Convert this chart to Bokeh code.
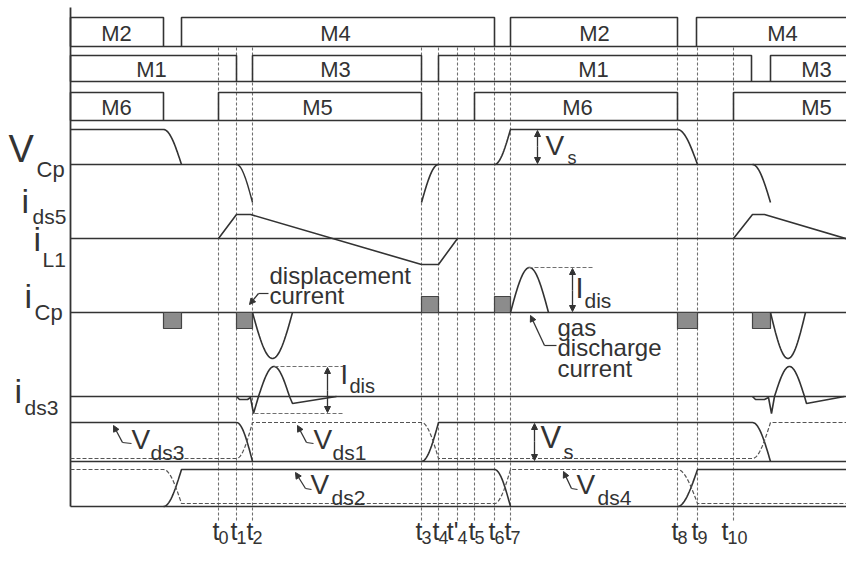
import numpy as np
from bokeh.plotting import figure
from bokeh.models import Range1d, Arrow, NormalHead
from bokeh.core.properties import value
from bokeh.embed import file_html
from bokeh.resources import INLINE

# ---------------- data ----------------
# switching instants (time axis) and their labels
tick_names = ["t0", "t1", "t2", "t3", "t4", "t4p", "t5", "t6", "t7", "t8", "t9", "t10"]
tick_main = ["t", "t", "t", "t", "t", "t'", "t", "t", "t", "t", "t", "t"]
tick_subs = ["0", "1", "2", "3", "4", "4", "5", "6", "7", "8", "9", "10"]
tick_times = [218, 236, 252, 421, 438, 457, 474, 494, 510, 677, 697, 733]
tick_label_x = [218, 236, 252, 421, 438, 457, 474, 494, 510, 677, 697, 727]
T = dict(zip(tick_names, tick_times))
ta, tb, tc, td = 163, 181, 752, 770      # unlabeled switching edges
t_start, t_end = 70, 870

# gate signals
gate_labels = ["M2", "M4", "M2", "M4", "M1", "M3", "M1", "M3", "M6", "M5", "M6", "M5"]
gate_row = [0, 0, 0, 0, 1, 1, 1, 1, 2, 2, 2, 2]
gate_on = [70, 181, 510, 696, 70, 252, 438, 770, 70, 218, 474, 733]
gate_off = [163, 494, 677, 900, 236, 421, 751, 900, 163, 421, 677, 900]
gate_label_x = [116, 335, 594, 782, 151, 335, 593, 816, 116, 317, 577, 816]
row_base = [46, 81, 120]
row_top = [17, 55, 92]

# waveform levels (measured downward from the top of the drawing)
vcp_high, vcp_zero, vcp_low = 129, 164, 202
il1_zero, il1_peak, il1_min, il1_end = 238, 214, 264, 243
icp_zero, icp_pos, icp_neg, pulse_depth = 312, 267, 358, 16
ids3_zero, ids3_peak, ids3_spike, ids3_under, ids3_dip = 396, 366, 413, 403, 399
vds13_hi, vds13_lo, vds13_dash_lo = 422, 461, 458
vds24_hi, vds24_lo, vds24_dash_lo = 469, 506, 503

INK = "#333333"
DASHC = "#707070"
FONT = value("Liberation Sans")
W, H = 846, 547

p = figure(width=W, height=H, x_range=Range1d(0, W), y_range=Range1d(0, H),
           output_backend="svg", toolbar_location=None, min_border=0,
           x_axis_location=None, y_axis_location=None)
p.grid.visible = False
p.outline_line_color = None


def fy(v):
    if isinstance(v, (list, tuple, np.ndarray)):
        return [H - a for a in v]
    return H - v


def ease_out(x0, y0, x1, y1, n=18):
    s = np.linspace(0, 1, n)
    return list(x0 + (x1 - x0) * s), list(y0 + (y1 - y0) * (1 - np.cos(np.pi / 2 * s)))


def ease_in(x0, y0, x1, y1, n=18):
    s = np.linspace(0, 1, n)
    return list(x0 + (x1 - x0) * s), list(y0 + (y1 - y0) * np.sin(np.pi / 2 * s))


def lobe(x0, x1, base, peak, n=36):
    s = np.linspace(0, 1, n)
    return list(x0 + (x1 - x0) * s), list(base + (peak - base) * np.sin(np.pi * s))


def join(*parts):
    xs, ys = [], []
    for px, py in parts:
        xs += list(px)
        ys += list(py)
    return xs, ys


def flat(x0, x1, y):
    return [x0, x1], [y, y]


def draw(parts, dash=None, width=1.6, color=INK):
    xs, ys = join(*parts)
    if dash:
        p.line(xs, fy(ys), line_color=color, line_width=width, line_dash=dash)
    else:
        p.line(xs, fy(ys), line_color=color, line_width=width)


def txt(x, y, s, size, align="left", mid=False):
    # y is the baseline (or the middle if mid=True), measured from the top
    ym = y if mid else y - 0.3465 * size
    p.text(x=[x], y=[fy(ym)], text=[s], text_font=FONT, text_font_size=f"{size}px",
           text_align=align, text_baseline="middle", text_color=INK)


def arrow(x0, y0, x1, y1, size=7):
    head = dict(size=size, fill_color=INK, line_color=INK, line_width=1)
    p.add_layout(Arrow(end=NormalHead(**head), x_start=x0, y_start=fy(y0), x_end=x1,
                       y_end=fy(y1), line_color=INK, line_width=1.3))


# ---------------- dashed time markers ----------------
p.segment(x0=tick_times, y0=fy(47), x1=tick_times, y1=fy(522), line_color=DASHC,
          line_width=1.1, line_dash="3 2")

# ---------------- frame and zero lines ----------------
p.segment(x0=t_start, y0=fy(7), x1=t_start, y1=fy(vds24_lo), line_color=INK, line_width=1.8)
zero_lines = row_base + [vcp_zero, il1_zero, icp_zero, ids3_zero, vds13_lo, vds24_lo]
p.segment(x0=t_start, y0=fy(zero_lines), x1=t_end, y1=fy(zero_lines), line_color=INK, line_width=1.6)

# ---------------- gate boxes ----------------
gx, gy = [], []
for r, a, b in zip(gate_row, gate_on, gate_off):
    gx.append([a, a, b, b])
    gy.append(fy([row_base[r], row_top[r], row_top[r], row_base[r]]))
p.multi_line(gx, gy, line_color=INK, line_width=1.6)
for lab, r, lx in zip(gate_labels, gate_row, gate_label_x):
    txt(lx, (row_base[r] + row_top[r]) / 2 + 1, lab, 22, align="center", mid=True)

# ---------------- V_Cp ----------------
draw([flat(t_start, ta, vcp_high), ease_out(ta, vcp_high, tb, vcp_zero)])
draw([ease_out(T["t1"], vcp_zero, T["t2"], vcp_low)], width=1.4)
draw([ease_in(T["t3"], vcp_low, T["t4"], vcp_zero)])
draw([ease_out(T["t6"], vcp_zero, T["t7"], vcp_high), flat(T["t7"], T["t8"], vcp_high),
      ease_out(T["t8"], vcp_high, T["t9"], vcp_zero)])
draw([ease_out(tc, vcp_zero, td, vcp_low)])

# ---------------- i_L1 / i_ds5 ----------------
draw([([T["t0"], T["t1"], T["t1"] + 14, T["t3"], T["t4"], T["t4p"]],
       [il1_zero, il1_peak, il1_peak, il1_min, il1_min, il1_zero])])
draw([([T["t10"], tc, tc + 12, 862], [il1_zero, il1_peak, il1_peak, il1_end])])

# ---------------- i_Cp ----------------
pl = [ta, T["t1"], T["t3"], T["t6"], T["t8"], tc]
pr = [tb, T["t2"], T["t4"], T["t7"], T["t9"], td]
pdir = [1, 1, -1, -1, 1, 1]
p.quad(left=pl, right=pr,
       top=fy([icp_zero if d > 0 else icp_zero - pulse_depth for d in pdir]),
       bottom=fy([icp_zero + pulse_depth if d > 0 else icp_zero for d in pdir]),
       fill_color="#8c8c8c", line_color="#444444", line_width=1.2)
draw([lobe(T["t2"], T["t2"] + 40, icp_zero, icp_neg)])
draw([lobe(T["t7"], T["t7"] + 38, icp_zero, icp_pos)])
draw([lobe(td, td + 35, icp_zero, icp_neg)])

# I_dis annotation on i_Cp
draw([flat(T["t7"] + 18, 593, icp_pos)], dash="4 2", width=1.1, color=DASHC)
arrow(572, 290, 572, icp_pos + 1, size=6)
arrow(572, 290, 572, icp_zero - 1, size=6)
txt(575, 298, "I", 29)
txt(584, 307, "dis", 21)

# ---------------- i_ds3 ----------------
draw([([T["t1"], T["t1"] + 3, T["t1"] + 11, T["t1"] + 14, T["t2"] + 1, T["t2"] + 6],
       [ids3_zero, ids3_dip, ids3_dip, ids3_zero + 1, ids3_spike, ids3_zero]),
      lobe(T["t2"] + 6, T["t2"] + 37, ids3_zero, ids3_peak),
      ([T["t2"] + 40, T["t2"] + 84], [ids3_under, ids3_zero])])
draw([([tc, tc + 3, tc + 12, tc + 16, td + 1, td + 4],
       [ids3_zero, ids3_dip, ids3_dip, ids3_zero + 1, ids3_spike, ids3_zero]),
      lobe(td + 4, td + 34, ids3_zero, ids3_peak),
      ([td + 36, td + 74], [ids3_under, ids3_zero])])
draw([flat(T["t2"] + 22, 343, ids3_peak)], dash="4 2", width=1.1, color=DASHC)
draw([flat(T["t2"] + 2, 343, ids3_spike)], dash="4 2", width=1.1, color=DASHC)
arrow(327, 390, 327, ids3_peak + 1, size=6)
arrow(327, 390, 327, ids3_spike - 1, size=6)
txt(340, 384, "I", 27)
txt(349, 392, "dis", 20)

# ---------------- V_ds1 / V_ds3 ----------------
draw([flat(t_start, T["t1"], vds13_hi), ease_out(T["t1"], vds13_hi, T["t2"], vds13_lo)])
draw([ease_out(T["t3"], vds13_lo, T["t4"], vds13_hi), flat(T["t4"], tc, vds13_hi),
      ease_out(tc, vds13_hi, td, vds13_lo)])
draw([flat(t_start, T["t1"], vds13_dash_lo), ease_out(T["t1"], vds13_dash_lo, T["t2"], vds13_hi),
      flat(T["t2"], T["t3"], vds13_hi), ease_out(T["t3"], vds13_hi, T["t4"], vds13_dash_lo),
      flat(T["t4"], tc, vds13_dash_lo), ease_out(tc, vds13_dash_lo, td, vds13_hi),
      flat(td, t_end, vds13_hi)], dash="4 2", width=1.2, color="#555555")

# ---------------- V_ds2 / V_ds4 ----------------
draw([ease_out(ta, vds24_lo, tb, vds24_hi), flat(tb, T["t6"], vds24_hi),
      ease_out(T["t6"], vds24_hi, T["t7"], vds24_lo)])
draw([ease_out(T["t8"], vds24_lo, T["t9"], vds24_hi), flat(T["t9"], t_end, vds24_hi)])
draw([flat(t_start, ta, vds24_hi), ease_out(ta, vds24_hi, tb, vds24_dash_lo),
      flat(tb, T["t6"], vds24_dash_lo), ease_out(T["t6"], vds24_dash_lo, T["t7"], vds24_hi),
      flat(T["t7"], T["t8"], vds24_hi), ease_out(T["t8"], vds24_hi, T["t9"], vds24_dash_lo),
      flat(T["t9"], t_end, vds24_dash_lo)], dash="4 2", width=1.2, color="#555555")

# ---------------- V_s arrows ----------------
arrow(537, 146, 537, vcp_high + 1, size=6)
arrow(537, 146, 537, vcp_zero - 1, size=6)
txt(545, 155, "V", 28)
txt(567, 164, "s", 18)
arrow(534, 441, 534, vds13_hi + 1, size=6)
arrow(534, 441, 534, vds13_lo - 1, size=6)
txt(540, 448, "V", 31)
txt(563, 458, "s", 20)

# ---------------- leaders ----------------
leaders = [
    ([131, 122, 113], [443, 442, 425]),
    ([313, 306, 297], [443, 442, 425]),
    ([311, 305, 295], [489, 488, 472]),
    ([577, 571, 563], [489, 488, 471]),
    ([268, 258, 249], [293, 293, 304]),
    ([556, 544, 530], [345, 345, 315]),
]
for lx, ly in leaders:
    draw([(lx[:2], ly[:2])], width=1.2)
    arrow(lx[1], ly[1], lx[2], ly[2], size=6)

txt(131, 449, "V", 28)
txt(150, 459, "ds3", 21)
txt(313, 449, "V", 28)
txt(332, 459, "ds1", 21)
txt(310, 494, "V", 28)
txt(331, 504, "ds2", 21)
txt(576, 494, "V", 28)
txt(597, 504, "ds4", 21)

txt(269, 283, "displacement", 24)
txt(269, 303, "current", 24)
txt(557, 335, "gas", 24)
txt(557, 355, "discharge", 24)
txt(557, 376, "current", 24)

# ---------------- signal names ----------------
txt(8, 162, "V", 38)
txt(36, 177, "Cp", 22)
txt(21, 212, "i", 34)
txt(32, 223, "ds5", 21)
txt(33, 250, "i", 34)
txt(42, 266, "L1", 21)
txt(24, 307, "i", 34)
txt(34, 320, "Cp", 22)
txt(14, 402, "i", 34)
txt(24, 414, "ds3", 21)

# ---------------- time labels ----------------
for m, s, x in zip(tick_main, tick_subs, tick_label_x):
    txt(x + 1, 539, m, 25, align="right")
    txt(x, 543, s, 18)

open("out.html", "w").write(file_html(p, INLINE))
